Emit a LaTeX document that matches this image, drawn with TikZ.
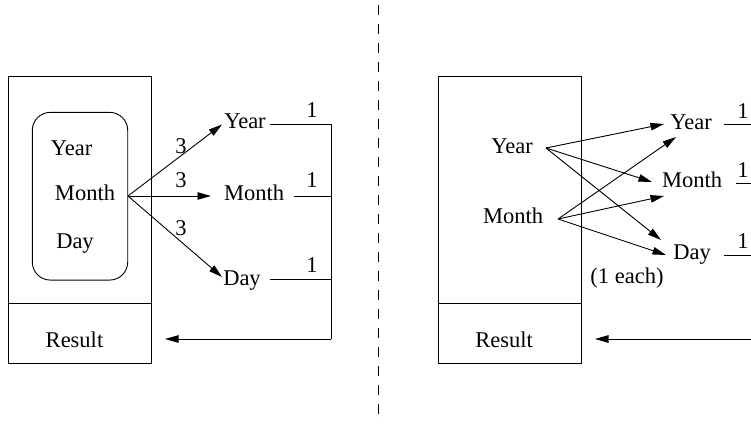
\documentclass[tikz,border=0pt]{standalone}
\usepackage{fontspec}
\setmainfont{Liberation Serif}
\usetikzlibrary{arrows.meta,calc}
\begin{document}
\begin{tikzpicture}[x=1pt,y=-1pt,
  txt/.style={font=\fontsize{22.5}{26}\selectfont, inner sep=0pt, anchor=base},
  boxnode/.style={draw, line width=0.9pt, inner sep=0pt, minimum width=143.4pt},
  ln/.style={line width=0.9pt},
  arr/.style={line width=0.9pt, -{Triangle[length=13.5pt,width=7.5pt]}},
]
\useasboundingbox (0,0) rectangle (751,424);

% ---------- separator ----------
\coordinate (sepT) at (378,5);
\coordinate (sepB) at (378,423);
\draw[line width=1pt, dash pattern=on 10pt off 9pt] (sepT) -- (sepB);

% ---------- left panel ----------
\node[boxnode, minimum height=227pt] (topL) at (80,189.7) {};
\node[boxnode, minimum height=59.7pt] (resBoxL) at (80,333.2) {};
\node[txt] (resL) at (74.5,347) {Result};
\node[draw, line width=0.9pt, rounded corners=18pt, minimum width=95.4pt, minimum height=167.7pt, inner sep=0pt] (rbox) at (80,196.2) {};
\node[txt] (yearIn) at (71.7,155) {Year};
\node[txt] (monthIn) at (85,200) {Month};
\node[txt] (dayIn) at (75,248) {Day};

\coordinate (srcL) at (128,196);
\coordinate (tipLY) at (222,124.5);
\coordinate (tipLM) at (211,196);
\coordinate (tipLD) at (222,277);
\draw[arr] (srcL) -- (tipLY);
\draw[arr] (srcL) -- (tipLM);
\draw[arr] (srcL) -- (tipLD);
\node[txt] (t1) at (181,153) {3};
\node[txt] (t2) at (181,187) {3};
\node[txt] (t3) at (181,235) {3};

\node[txt] (yearL) at (245,128) {Year};
\node[txt] (monthL) at (254,200) {Month};
\node[txt] (dayL) at (242,285) {Day};

\coordinate (lYs) at (270,124);
\coordinate (lMs) at (294,196);
\coordinate (lDs) at (270,279);
\coordinate (busYL) at (331,124);
\coordinate (busML) at (331,196);
\coordinate (busDL) at (331,279);
\coordinate (busBL) at (331,339);
\coordinate (tipRes) at (165,339);
\draw[ln] (lYs) -- (busYL);
\draw[ln] (lMs) -- (busML);
\draw[ln] (lDs) -- (busDL);
\draw[ln] (busYL) -- (busBL);
\draw[arr] (busBL) -- (tipRes);
\node[txt] (oneLY) at (312,117) {1};
\node[txt] (oneLM) at (312,187) {1};
\node[txt] (oneLD) at (312,272) {1};

% ---------- right panel ----------
\node[boxnode, minimum height=227pt] (topR) at (510,189.7) {};
\node[boxnode, minimum height=59.7pt] (resBoxR) at (510,333.2) {};
\node[txt] (resR) at (504,347) {Result};
\node[txt] (yearR) at (512,153) {Year};
\node[txt] (monthR) at (513,223) {Month};

\coordinate (srcRY) at (546,148);
\coordinate (srcRM) at (558,219);
\coordinate (tipYY) at (664,124);
\coordinate (tipYM) at (652,182);
\coordinate (tipYD) at (661,240);
\coordinate (tipMY) at (676,137);
\coordinate (tipMM) at (664,196);
\coordinate (tipMD) at (666,255);
\draw[arr] (srcRY) -- (tipYY);
\draw[arr] (srcRY) -- (tipYM);
\draw[arr] (srcRY) -- (tipYD);
\draw[arr] (srcRM) -- (tipMY);
\draw[arr] (srcRM) -- (tipMM);
\draw[arr] (srcRM) -- (tipMD);

\node[txt] (yearT) at (691,129) {Year};
\node[txt] (monthT) at (692,187) {Month};
\node[txt] (dayT) at (692,259) {Day};
\node[txt] (each) at (627,283) {(1 each)};

\coordinate (rYs) at (724,124);
\coordinate (rMs) at (736,183);
\coordinate (rDs) at (724,255);
\coordinate (rYe) at (752,124);
\coordinate (rMe) at (752,183);
\coordinate (rDe) at (752,255);
\coordinate (rBs) at (752,339);
\coordinate (tipResR) at (595,339);
\draw[ln] (rYs) -- (rYe);
\draw[ln] (rMs) -- (rMe);
\draw[ln] (rDs) -- (rDe);
\draw[arr] (rBs) -- (tipResR);
\node[txt] (oneRY) at (743,118) {1};
\node[txt] (oneRM) at (743,177) {1};
\node[txt] (oneRD) at (743,248) {1};
\end{tikzpicture}
\end{document}
